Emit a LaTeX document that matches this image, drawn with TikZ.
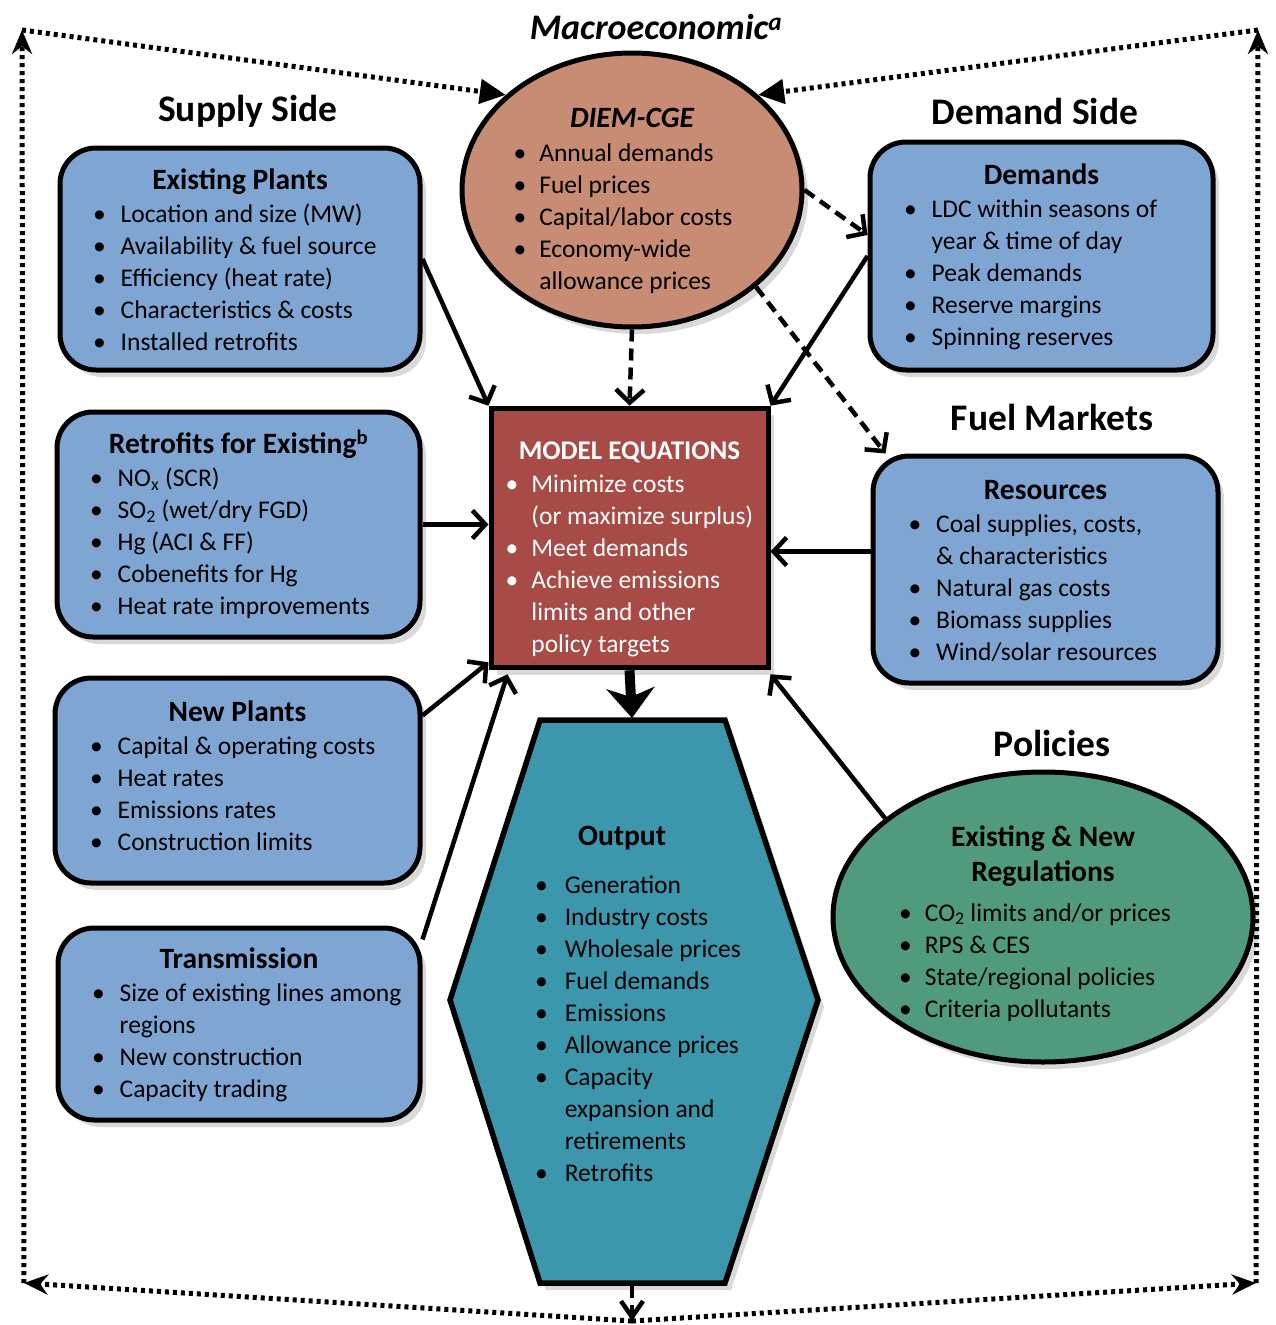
\documentclass[tikz,border=0pt]{standalone}
\usepackage{fontspec}
\setmainfont{Carlito}
\usetikzlibrary{shapes.geometric,arrows.meta,positioning,calc,shadows}
\usepackage{xcolor}
\definecolor{supplyblue}{RGB}{127,166,211}
\definecolor{cgesalmon}{RGB}{200,139,115}
\definecolor{eqred}{RGB}{168,74,70}
\definecolor{outteal}{RGB}{60,150,172}
\definecolor{policygreen}{RGB}{80,154,125}

\newcommand{\bodyfont}{\fontsize{25.5}{32}\selectfont}
\newcommand{\hd}[1]{{\fontsize{29.5}{34}\selectfont\bfseries #1}}
\newcommand{\blist}[2][13pt]{\begin{tabular}[t]{@{}l@{\hspace{#1}}l@{}}#2\end{tabular}}
\newcommand{\flushlist}[2]{\makebox[#1][l]{\blist[15pt]{#2}}}
\newcommand{\pad}[1]{\rule{#1}{0pt}}

\begin{document}
\begin{tikzpicture}[x=1pt, y=-1pt,
    shade/.style={drop shadow={shadow xshift=6pt, shadow yshift=-7pt, opacity=0.3}},
    inputbox/.style={rectangle, draw, line width=5pt, rounded corners=36pt, fill=supplyblue, align=center, inner sep=4pt, font=\bodyfont, shade},
    bubble/.style={ellipse, draw, line width=5pt, inner sep=0pt, shade},
    eqbox/.style={rectangle, draw, line width=5pt, fill=eqred, text=white, align=center, inner sep=6pt, font=\bodyfont, shade},
    bodytext/.style={align=center, font=\bodyfont},
    sidetitle/.style={font=\fontsize{37.5}{40}\selectfont\bfseries},
    feed/.style={-{Straight Barb[length=13pt,width=28pt]}, line width=4.5pt},
    link/.style={feed, dash pattern=on 12pt off 7pt},
    loopline/.style={line width=5pt, dash pattern=on 4pt off 4pt}]

    \useasboundingbox (0,0) rectangle (1275,1325);

    % frame corners
    \coordinate (tl) at (22,30);
    \coordinate (tr) at (1258,30);
    \coordinate (bl) at (24,1283);
    \coordinate (br) at (1256,1283);
    \coordinate (bc) at (632,1321);

    % macroeconomic model
    \node [bubble, fill=cgesalmon, minimum width=340pt, minimum height=274pt] (diem) at (632,190) {};
    \node [bodytext] (diemtxt) at (632,204) {\hd{\itshape DIEM-CGE}\\[2pt]
        \blist{\textbullet & Annual demands\\ \textbullet & Fuel prices\\ \textbullet & Capital/labor costs\\
        \textbullet & Economy-wide\\ & allowance prices}\pad{18pt}};
    \node [font=\fontsize{36}{38}\selectfont\bfseries\itshape] (macro) at (656,27) {Macroeconomic\textsuperscript{a}};

    % headings
    \node [sidetitle] (supplyside) at (248,111) {Supply Side};
    \node [sidetitle] (demandside) at (1035,111) {Demand Side};
    \node [sidetitle] (fuelmarkets) at (1052,417) {Fuel Markets};
    \node [sidetitle] (policies) at (1052,743) {Policies};

    % supply side
    \node [inputbox, minimum width=360pt, minimum height=222pt] (existing) at (240,259) {\hd{\rule{0pt}{32pt}Existing Plants}\\[1pt]
        \flushlist{294pt}{\textbullet & Location and size (MW)\\ \textbullet & Availability \& fuel source\\
        \textbullet & Efficiency (heat rate)\\ \textbullet & Characteristics \& costs\\ \textbullet & Installed retrofits}};
    \node [inputbox, minimum width=363pt, minimum height=225pt] (retrofit) at (238.5,524.5) {\hd{\rule{0pt}{29pt}Retrofits for Existing\textsuperscript{b}}\\[1pt]
        \flushlist{297pt}{\textbullet & NO\textsubscript{x} (SCR)\\ \textbullet & SO\textsubscript{2} (wet/dry FGD)\\
        \textbullet & Hg (ACI \& FF)\\ \textbullet & Cobenefits for Hg\\ \textbullet & Heat rate improvements}};
    \node [inputbox, minimum width=365pt, minimum height=205pt] (newplants) at (237.5,780.5) {\hd{New Plants}\\[1pt]
        \flushlist{295pt}{\textbullet & Capital \& operating costs\\ \textbullet & Heat rates\\
        \textbullet & Emissions rates\\ \textbullet & Construction limits}};
    \node [inputbox, minimum width=362pt, minimum height=192pt] (transmission) at (239,1024) {\hd{\rule{0pt}{28pt}Transmission}\\[1pt]
        \flushlist{294pt}{\textbullet & Size of existing lines among\\ & regions\\
        \textbullet & New construction\\ \textbullet & Capacity trading}};

    % demand side and fuel markets
    \node [inputbox, minimum width=343pt, minimum height=228pt] (demands) at (1041.5,256) {\hd{\rule{0pt}{28pt}Demands}\\[1pt]
        \flushlist{275pt}{\textbullet & LDC within seasons of\\ & year \& time of day\\ \textbullet & Peak demands\\
        \textbullet & Reserve margins\\ \textbullet & Spinning reserves}};
    \node [inputbox, minimum width=345pt, minimum height=227pt] (resources) at (1045.5,569.5) {\hd{\rule{0pt}{30pt}Resources}\\[1pt]
        \flushlist{274pt}{\textbullet & Coal supplies, costs,\\ & \& characteristics\\ \textbullet & Natural gas costs\\
        \textbullet & Biomass supplies\\ \textbullet & Wind/solar resources}};

    % policies
    \node [bubble, fill=policygreen, minimum width=420pt, minimum height=290pt] (regs) at (1043,917) {};
    \node [bodytext] (regstxt) at (1043,926) {\hd{Existing \& New}\\[3pt] \hd{Regulations}\\[8pt]
        \blist{\textbullet & CO\textsubscript{2} limits and/or prices\\ \textbullet & RPS \& CES\\
        \textbullet & State/regional policies\\ \textbullet & Criteria pollutants}\pad{16pt}};

    % core model
    \node [eqbox, minimum width=277pt, minimum height=254pt] (model) at (629.5,538) {{\fontsize{27}{34}\selectfont\bfseries\rule{0pt}{45pt}MODEL EQUATIONS}\\[1pt]
        \blist{\textbullet & Minimize costs\\ & (or maximize surplus)\\ \textbullet & Meet demands\\
        \textbullet & Achieve emissions\\ & limits and other\\ & policy targets}};

    % output
    \draw [line width=5.5pt, fill=outteal, shade] (540,720) -- (725,720) -- (818,1000) -- (725,1283) -- (540,1283) -- (450,1000) -- cycle;
    \coordinate (outtop) at (632,718);
    \coordinate (outbottom) at (632,1286);
    \node [bodytext] (outtxt) at (638,1009) {\hd{Output}\pad{32pt}\\[16pt]
        \blist[17pt]{\textbullet & Generation\\ \textbullet & Industry costs\\ \textbullet & Wholesale prices\\
        \textbullet & Fuel demands\\ \textbullet & Emissions\\ \textbullet & Allowance prices\\
        \textbullet & Capacity\\ & expansion and\\ & retirements\\ \textbullet & Retrofits}};

    % inputs to the model
    \draw [feed] (existing.east) -- (model.north west);
    \draw [feed] (retrofit.east) -- (retrofit.east -| model.west);
    \draw [feed] ([yshift=-40pt]newplants.north east) -- ([yshift=8pt]model.south west);
    \draw [feed] ([yshift=-14pt]transmission.north east) -- ([xshift=19pt, yshift=-4pt]model.south west);
    \draw [feed] (demands.west) -- (model.north east);
    \draw [feed] ([yshift=18pt]resources.west) -- ([yshift=18pt]resources.west -| model.east);
    \draw [feed] (regs.148) -- ([yshift=-4pt]model.south east);

    % macroeconomic links
    \draw [link] (diem.south) -- (model.north);
    \draw [link] (diem.east) -- ([yshift=21pt]demands.west);
    \draw [link] (diem.-38) -- ([xshift=15pt]resources.north west);

    % results
    \draw [-{Stealth[length=30pt,width=48pt,inset=9pt]}, line width=10pt] (model.south) -- (outtop);
    \draw [link, -{Straight Barb[length=16pt,width=22pt]}] (outbottom) -- (bc);

    % feedback loop
    \draw [loopline, -{Stealth[length=24pt,width=20pt]}] (bc) -- (bl);
    \draw [loopline, -{Stealth[length=24pt,width=20pt]}] (bc) -- (br);
    \draw [loopline, -{Stealth[length=24pt,width=20pt]}] (bl) -- (tl);
    \draw [loopline, -{Stealth[length=24pt,width=20pt]}] (br) -- (tr);
    \draw [loopline, -{Triangle[length=26pt,width=24pt]}] (tl) -- (diem.143);
    \draw [loopline, -{Triangle[length=26pt,width=24pt]}] (tr) -- (diem.37);
\end{tikzpicture}
\end{document}
